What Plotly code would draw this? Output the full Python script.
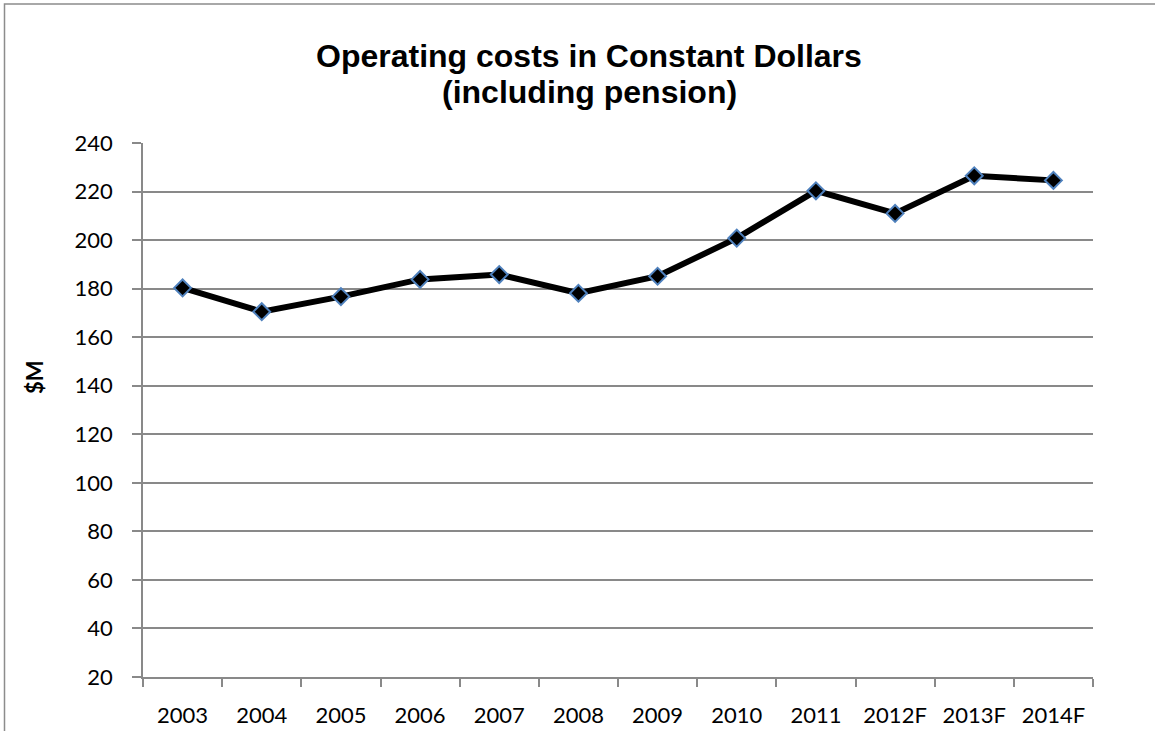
import plotly.graph_objects as go

# Operating costs, $M in constant dollars (F = forecast)
years = ["2003", "2004", "2005", "2006", "2007", "2008", "2009",
         "2010", "2011", "2012F", "2013F", "2014F"]
costs = [180.3, 170.5, 176.7, 183.8, 185.8, 178.1, 185.1,
         200.8, 220.3, 211.0, 226.5, 224.6]
y_ticks = [20, 40, 60, 80, 100, 120, 140, 160, 180, 200, 220, 240]

W, H = 1155, 731
L, R, T, B = 143, 62, 143, 54
pw, ph = W - L - R, H - T - B

def px_x(x):
    return (x - L) / pw

def px_y(y):
    return (H - B - y) / ph

grid = "#898989"
tick_font = dict(family="Lato, Open Sans, sans-serif", size=22, color="#000000")
title_font = dict(family="Liberation Sans, Arial, sans-serif", size=32, color="#000000")

fig = go.Figure()
fig.add_trace(go.Scatter(
    x=years, y=costs, mode="lines+markers",
    line=dict(color="#000000", width=6),
    marker=dict(symbol="diamond", size=13, color="#000000",
                line=dict(color="#4F81BD", width=2)),
    showlegend=False, hoverinfo="x+y",
))

fig.update_layout(
    width=W, height=H,
    margin=dict(l=L, r=R, t=T, b=B, pad=0, autoexpand=False),
    paper_bgcolor="#ffffff", plot_bgcolor="#ffffff",
    xaxis=dict(
        type="category", tickson="boundaries", automargin=False,
        showline=True, linecolor=grid, linewidth=1.5,
        ticks="outside", ticklen=8, tickcolor=grid, tickwidth=1.5,
        showgrid=False, tickfont=tick_font, ticklabelstandoff=18,
        range=[-0.5, len(years) - 0.5], fixedrange=True,
    ),
    yaxis=dict(
        range=[20, 240], tickvals=y_ticks, ticktext=[str(v) for v in y_ticks],
        automargin=False,
        showline=True, linecolor=grid, linewidth=1.5,
        ticks="outside", ticklen=9, tickcolor=grid, tickwidth=1.5,
        showgrid=True, gridcolor=grid, gridwidth=1.5, zeroline=False,
        tickfont=tick_font, ticklabelstandoff=15, fixedrange=True,
    ),
    shapes=[dict(
        type="rect", xref="paper", yref="paper",
        x0=px_x(4.5), x1=px_x(1200), y0=px_y(4), y1=px_y(760),
        line=dict(color="#8c8c8c", width=1.5), fillcolor="rgba(0,0,0,0)",
        layer="below",
    )],
    annotations=[
        dict(text="<b>Operating costs in Constant Dollars</b>",
             xref="paper", yref="paper", x=px_x(589), y=px_y(56),
             xanchor="center", yanchor="middle", showarrow=False,
             font=title_font),
        dict(text="<b>(including pension)</b>",
             xref="paper", yref="paper", x=px_x(589), y=px_y(92),
             xanchor="center", yanchor="middle", showarrow=False,
             font=title_font),
        dict(text="<b>$M</b>", textangle=-90,
             xref="paper", yref="paper", x=px_x(34), y=px_y(377),
             xanchor="center", yanchor="middle", showarrow=False,
             font=dict(family="Lato, Open Sans, sans-serif", size=22, color="#000000")),
    ],
)

fig.write_html("out.html")
